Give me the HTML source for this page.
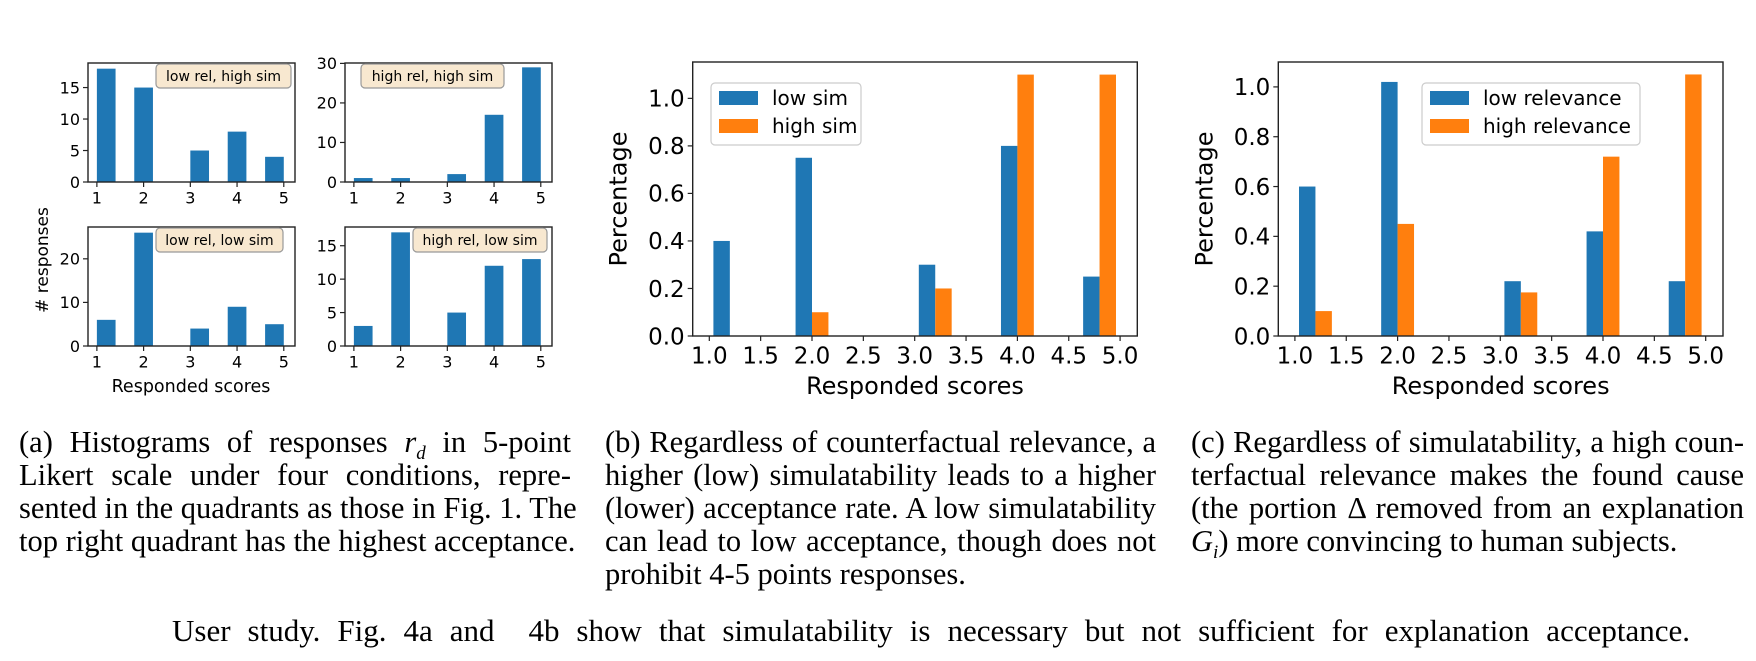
<!DOCTYPE html>
<html><head><meta charset="utf-8">
<style>
body{margin:0;width:1756px;height:661px;background:#fff;position:relative;overflow:hidden}
.cap{position:absolute;font-family:"Liberation Serif",serif;font-size:30.5px;line-height:33px;color:#000;white-space:nowrap}
.cap span{display:block;text-align:justify;text-align-last:justify}
.cap span.last{text-align-last:left}
.cap sub{font-size:19px;line-height:0}
svg text{font-family:"DejaVu Sans","Liberation Sans",sans-serif;fill:#000}
</style></head><body>
<svg id="fig" width="1756" height="410" style="position:absolute;left:0;top:0"></svg>

<div class="cap" style="left:19px;top:426px;width:552px"><span>(a) Histograms of responses <i>r<sub>d</sub></i> in 5-point</span><span>Likert scale under four conditions, repre-</span><span>sented in the quadrants as those in Fig. 1. The</span><span class="last">top right quadrant has the highest acceptance.</span></div>
<div class="cap" style="left:605px;top:426px;width:551px"><span>(b) Regardless of counterfactual relevance, a</span><span>higher (low) simulatability leads to a higher</span><span>(lower) acceptance rate. A low simulatability</span><span>can lead to low acceptance, though does not</span><span class="last">prohibit 4-5 points responses.</span></div>
<div class="cap" style="left:1191px;top:426px;width:553px"><span>(c) Regardless of simulatability, a high coun-</span><span>terfactual relevance makes the found cause</span><span>(the portion Δ removed from an explanation</span><span class="last"><i>G<sub>i</sub></i>) more convincing to human subjects.</span></div>
<div class="cap" style="left:172px;top:614px;width:1518px;font-size:31px"><span>User study. Fig. 4a and&nbsp; 4b show that simulatability is necessary but not sufficient for explanation acceptance.</span></div>

<script>
// ---- data ----
const binStarts = [1.0,1.4,1.8,2.2,2.6,3.0,3.4,3.8,4.2,4.6];
const histLowRelHighSim = [18,0,15,0,0,5,0,8,0,4];
const histHighRelHighSim = [1,0,1,0,0,2,0,17,0,29];
const histLowRelLowSim = [6,0,26,0,0,4,0,9,0,5];
const histHighRelLowSim = [3,0,17,0,0,5,0,12,0,13];
const lowSim = [0.4,0,0.75,0,0,0.3,0,0.8,0,0.25];
const highSim = [0,0,0.1,0,0,0.2,0,1.1,0,1.1];
const lowRel = [0.6,0,1.02,0,0,0.22,0,0.42,0,0.22];
const highRel = [0.1,0,0.45,0,0,0.175,0,0.72,0,1.05];
const smallXTicks = [1,2,3,4,5];
const bigXTicks = ["1.0","1.5","2.0","2.5","3.0","3.5","4.0","4.5","5.0"];
const pctYTicks = ["0.0","0.2","0.4","0.6","0.8","1.0"];

const NS="http://www.w3.org/2000/svg";
const svg=document.getElementById('fig');
function mk(tag,attrs,parent){const e=document.createElementNS(NS,tag);for(const k in attrs)e.setAttribute(k,attrs[k]);(parent||svg).appendChild(e);return e;}
const BLUE="#1f77b4",ORANGE="#ff7f0e";

function axes(o){
  const g=mk('g',{});
  
  
  const sx=v=>o.x0+(v-o.xmin)/(o.xmax-o.xmin)*(o.x1-o.x0);
  const sy=v=>o.y1-(v-o.ymin)/(o.ymax-o.ymin)*(o.y1-o.y0);
  o.series.forEach((s,si)=>{
    s.vals.forEach((v,i)=>{
      if(v<=0)return;
      const bx=sx(binStarts[i]+o.off+si*o.bw), bw=sx(binStarts[i]+o.off+(si+1)*o.bw)-bx;
      const r=mk('rect',{x:bx,y:sy(v),width:bw,height:sy(0)-sy(v),fill:s.color},g);
      
      
    });
  });
  mk('rect',{x:o.x0,y:o.y0,width:o.x1-o.x0,height:o.y1-o.y0,fill:'none',stroke:'#222','stroke-width':1.4},g);
  o.yticks.forEach(t=>{
    const y=sy(parseFloat(t));
    mk('line',{x1:o.x0-5,x2:o.x0,y1:y,y2:y,stroke:'#222','stroke-width':1.2},g);
    const tx=mk('text',{x:o.x0-8,y:y+o.fs*0.36,'font-size':o.fs,'text-anchor':'end'},g);tx.textContent=t;
    
    
  });
  o.xticks.forEach(t=>{
    const x=sx(parseFloat(t));
    mk('line',{x1:x,x2:x,y1:o.y1,y2:o.y1+5,stroke:'#222','stroke-width':1.2},g);
    const tx=mk('text',{x:x,y:o.y1+8+o.fs*0.85,'font-size':o.fs,'text-anchor':'middle'},g);tx.textContent=t;
    
    
  });
  return g;
}
// small charts
const small=[
 {name:'hist-low-rel-high-sim',x0:88,x1:295,y0:63,y1:182,ymax:18.9,yt:["0","5","10","15"],d:histLowRelHighSim,lab:'low rel, high sim',lx:156,lw:135},
 {name:'hist-high-rel-high-sim',x0:345,x1:552,y0:63,y1:182,ymax:30.1,yt:["0","10","20","30"],d:histHighRelHighSim,lab:'high rel, high sim',lx:361,lw:143},
 {name:'hist-low-rel-low-sim',x0:88,x1:295,y0:227,y1:346,ymax:27.3,yt:["0","10","20"],d:histLowRelLowSim,lab:'low rel, low sim',lx:156,lw:127},
 {name:'hist-high-rel-low-sim',x0:345,x1:552,y0:227,y1:346,ymax:17.8,yt:["0","5","10","15"],d:histHighRelLowSim,lab:'high rel, low sim',lx:413,lw:134}
];
small.forEach(c=>{
  const g=axes({name:c.name,x0:c.x0,x1:c.x1,y0:c.y0,y1:c.y1,xmin:0.81,xmax:5.24,ymin:0,ymax:c.ymax,off:0,bw:0.4,
    series:[{vals:c.d,color:BLUE,name:'count'}],yticks:c.yt,xticks:smallXTicks.map(String),fs:16});
  const b=mk('rect',{x:c.lx,y:c.y0+1,width:c.lw,height:24,rx:4,fill:'#f8e8d0',stroke:'#999','stroke-width':1.2},g);
  
  
  const t=mk('text',{x:c.lx+c.lw/2,y:c.y0+18,'font-size':14,'text-anchor':'middle'},g);t.textContent=c.lab;
  
  
});
let t=mk('text',{x:0,y:0,'font-size':17,'text-anchor':'middle',transform:'translate(48,260) rotate(-90)'});t.textContent='# responses';


t=mk('text',{x:191,y:392,'font-size':17.5,'text-anchor':'middle'});t.textContent='Responded scores';



// big charts
function big(name,x0,x1,ymax,s1,s2,n1,n2,legX,legW){
  const g=axes({name:name,x0:x0,x1:x1,y0:62,y1:336,xmin:1-(709.3-692.7)/102.7,xmax:1+(x1-x0-16.6)/102.7,ymin:0,ymax:ymax,off:0.04,bw:0.16,
    series:[{vals:s1,color:BLUE,name:n1.replace(' ','-')},{vals:s2,color:ORANGE,name:n2.replace(' ','-')}],yticks:pctYTicks,xticks:bigXTicks,fs:23});
  let tt=mk('text',{x:0,y:0,'font-size':24,'text-anchor':'middle',transform:`translate(${x0-66},199) rotate(-90)`},g);tt.textContent='Percentage';
  
  
  tt=mk('text',{x:(x0+x1)/2,y:394,'font-size':24,'text-anchor':'middle'},g);tt.textContent='Responded scores';
  
  
  const lg=mk('g',{},g);
  
  
  mk('rect',{x:legX,y:83,width:legW,height:62,rx:4,fill:'#fff',stroke:'#ccc','stroke-width':1.2},lg);
  [[n1,BLUE],[n2,ORANGE]].forEach((e,i)=>{
    mk('rect',{x:legX+8,y:91+i*28,width:39,height:14,fill:e[1]},lg);
    const lt=mk('text',{x:legX+61,y:105+i*28,'font-size':20},lg);lt.textContent=e[0];
    
    
  });
}
big('chart-simulatability',692.7,1137.3,1.153,lowSim,highSim,'low sim','high sim',711,150);
big('chart-relevance',1278.3,1723,1.1,lowRel,highRel,'low relevance','high relevance',1422,218);
</script>
</body></html>
